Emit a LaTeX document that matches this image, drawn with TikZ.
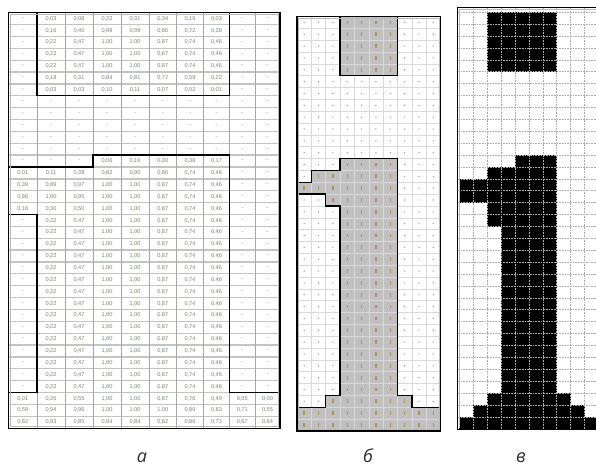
\documentclass[tikz,border=0pt]{standalone}
\usepackage{fontspec}
\setmainfont{Liberation Sans}
\newfontfamily\labelfont{Open Sans}
\definecolor{cellT}{RGB}{120,134,110}
\definecolor{gridA}{RGB}{196,196,196}
\definecolor{fillB}{RGB}{192,192,192}
\definecolor{oneC}{RGB}{165,150,85}
\definecolor{zeroC}{RGB}{145,148,170}
\definecolor{labC}{RGB}{45,45,45}

\tikzset{
  boxframe/.style={draw=black,line width=1.3pt},
  boxinner/.style={draw=gray!55,line width=0.6pt},
  shapeline/.style={draw=black,line width=1.4pt},
  celltxt/.style={font=\fontsize{5.6}{6}\selectfont,text=cellT,inner sep=0pt},
  panlabel/.style={font=\labelfont\itshape\fontsize{18}{20}\selectfont,text=labC,anchor=base}
}

% column edges and centres of the table (pt)
\def\colsA{{8.5,37,65,93,121,149,176.5,203.5,229.5,255,280}}
\def\midsA{{22.75,51,79,107,135,162.75,190,216.5,242.25,267.5}}
\def\dashval{-}
\def\commadec#1.#2\relax{#1,#2}
% one table row: #1 row number, #2 ten values
\newcommand\tabrow[2]{%
  \foreach \val [count=\col] in {#2}{%
    \pgfmathtruncatemacro\idx{\col-1}
    \pgfmathsetmacro\xm{\midsA[\idx]}
    \node[celltxt] (a-#1-\col) at (\xm,#1-0.5)
      {\ifx\val\dashval-\else\expandafter\commadec\val\relax\fi};
  }}

\begin{document}
\begin{tikzpicture}[x=1pt,y=-1pt]
  \useasboundingbox[fill=white] (0,0) rectangle (596,467);

  % --- a: table of values
  \begin{scope}[shift={(0pt,-12.7pt)},y=-11.87pt]
    \foreach \r in {1,...,34}
      \draw[gridA,line width=1.3pt] (8.5,\r) -- (280,\r);
    \foreach \k in {1,...,9}{
      \pgfmathsetmacro\xv{\colsA[\k]}
      \draw[gray!70,line width=0.5pt] (\xv,0) -- (\xv,35);
    }
    \tabrow{1}{-,0.03,0.08,0.22,0.31,0.34,0.19,0.03,-,-}
    \tabrow{2}{-,0.16,0.40,0.99,0.99,0.86,0.72,0.38,-,-}
    \foreach \r in {3,4,5}{
      \tabrow{\r}{-,0.22,0.47,1.00,1.00,0.87,0.74,0.46,-,-}}
    \tabrow{6}{-,0.18,0.31,0.84,0.81,0.77,0.59,0.22,-,-}
    \tabrow{7}{-,0.03,0.03,0.10,0.11,0.07,0.02,0.01,-,-}
    \foreach \r in {8,...,12}{
      \tabrow{\r}{-,-,-,-,-,-,-,-,-,-}}
    \tabrow{13}{-,-,-,0.06,0.16,0.30,0.38,0.17,-,-}
    \tabrow{14}{0.01,0.11,0.38,0.82,0.90,0.86,0.74,0.46,-,-}
    \tabrow{15}{0.39,0.89,0.97,1.00,1.00,0.87,0.74,0.46,-,-}
    \tabrow{16}{0.86,1.00,0.95,1.00,1.00,0.87,0.74,0.46,-,-}
    \tabrow{17}{0.18,0.30,0.50,1.00,1.00,0.87,0.74,0.46,-,-}
    \foreach \r in {18,...,32}{
      \tabrow{\r}{-,0.22,0.47,1.00,1.00,0.87,0.74,0.46,-,-}}
    \tabrow{33}{0.01,0.26,0.55,1.00,1.00,0.87,0.76,0.49,0.05,0.00}
    \tabrow{34}{0.59,0.94,0.96,1.00,1.00,1.00,0.89,0.83,0.71,0.55}
    \tabrow{35}{0.82,0.93,0.85,0.84,0.84,0.82,0.86,0.73,0.67,0.64}
    % outlines of the figure
    \draw[shapeline] (37,0) -- (37,7) -- (229.5,7) -- (229.5,0);
    \draw[shapeline] (8.5,13) -- (93,13) -- (93,12) -- (229.5,12) -- (229.5,32) -- (280,32);
    \draw[shapeline] (8.5,17) -- (37,17) -- (37,32) -- (8.5,32);
    \draw[boxframe] (8.5,0) rectangle (280,35);
    \draw[boxinner] (10,0.12) rectangle (278.5,34.88);
  \end{scope}

  % --- b: grid with shaded digit
  \begin{scope}[shift={(297pt,-16.5pt)},x=14.35pt,y=-11.84pt]
    \foreach \r in {1,...,35}{
      \foreach \k in {1,...,10}{
        \fill[zeroC] (\k-0.5,\r-0.5) circle (0.7pt);}}
    \foreach \ra/\rb/\ca/\cb in {1/5/4/7,13/13/4/7,14/14/2/7,15/15/1/7,16/16/3/7,17/32/4/7,33/33/3/8,34/35/1/10}{
      \fill[fillB] (\ca-1,\ra-1) rectangle (\cb,\rb);
      \foreach \r in {\ra,...,\rb}{
        \foreach \k in {\ca,...,\cb}{
          \fill[oneC] (\k-0.5,\r-0.5) +(-0.7pt,-1.9pt) rectangle +(0.7pt,1.9pt);}}
    }
    \foreach \i in {1,...,34}
      \draw[gray!30,line width=0.5pt] (0,\i) -- (10,\i);
    \foreach \i in {1,...,9}
      \draw[gray!30,line width=0.5pt] (\i,0) -- (\i,35);
    % outlines of the figure
    \draw[shapeline] (3,0) -- (3,5) -- (7,5) -- (7,0);
    \draw[shapeline] (0,14) -- (1,14) -- (1,13) -- (3,13) -- (3,12) -- (7,12) -- (7,32) -- (8,32) -- (8,33) -- (10,33);
    \draw[shapeline] (0,15) -- (2,15) -- (2,16) -- (3,16) -- (3,32) -- (2,32) -- (2,33) -- (0,33);
    \draw[boxframe] (0,0) rectangle (10,35);
    \draw[boxinner] (0.1,0.12) rectangle (9.9,34.88);
  \end{scope}

  % --- c: binary raster
  \begin{scope}[shift={(459.2pt,-12.3pt)},x=13.95pt,y=-11.9pt]
    \clip (-1,-1) rectangle (9.8,36);
    \foreach \ra/\rb/\ca/\cb in {1/5/3/7,13/13/5/7,14/14/3/7,15/16/1/7,17/18/3/7,19/32/4/7,33/33/3/8,34/34/2/9,35/35/1/10}
      \fill[black] (\ca-1,\ra-1) rectangle (\cb,\rb);
    \foreach \i in {0,...,34}
      \draw[gray!65,line width=0.8pt,dash pattern=on 1pt off 0.6pt] (-0.1,\i) -- (10,\i);
    \foreach \i in {1,...,9}
      \draw[gray!65,line width=0.8pt,dash pattern=on 1pt off 0.6pt] (\i,-0.4) -- (\i,35);
    \draw[boxframe] (11,35.05) -- (-0.115,35.05) -- (-0.115,-0.4) -- (11,-0.4);
    \draw[boxinner] (11,-0.28) -- (-0.01,-0.28) -- (-0.01,34.95);
  \end{scope}

  % panel letters
  \node[panlabel] (labA) at (142,462) {а};
  \node[panlabel] (labB) at (368,462) {б};
  \node[panlabel] (labC) at (521,462) {в};
\end{tikzpicture}
\end{document}
